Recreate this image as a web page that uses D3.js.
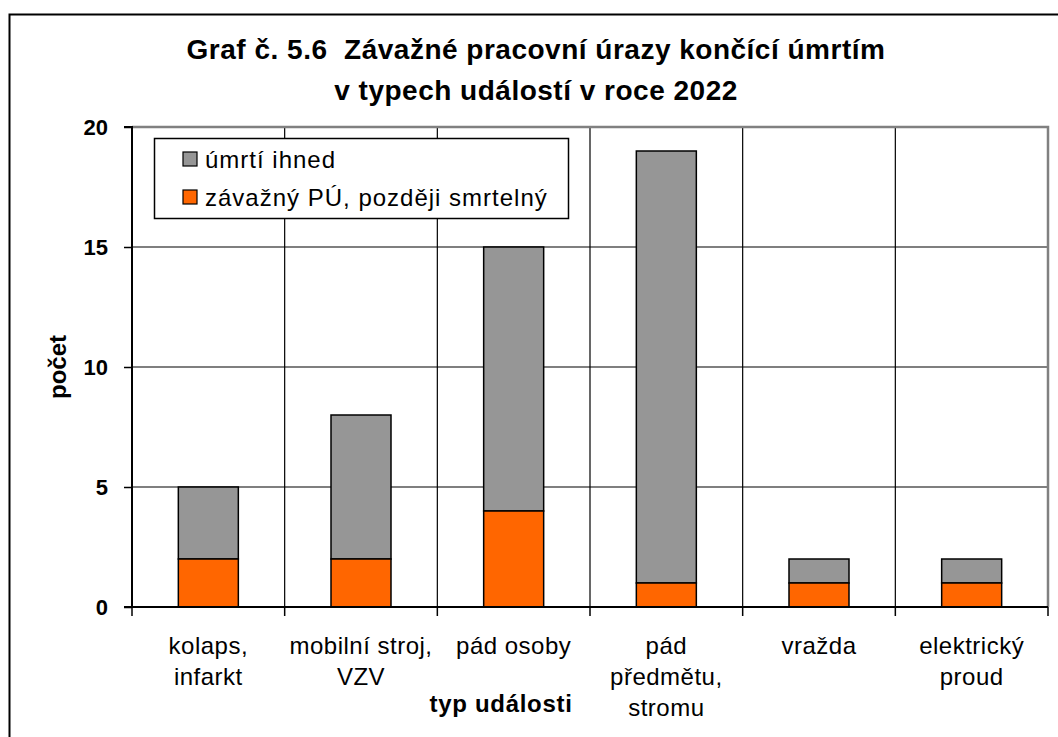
<!DOCTYPE html>
<html>
<head>
<meta charset="utf-8">
<script src="https://cdn.jsdelivr.net/npm/d3@7"></script>
<style>
  body { margin: 0; background: #fff; }
  svg { display: block; font-family: "Liberation Sans", Arial, sans-serif; }
</style>
</head>
<body>
<div id="chart"></div>
<script>
// Graf 5.6 — skládaný sloupcový graf

const categories = [
  ["kolaps,", "infarkt"],
  ["mobilní stroj,", "VZV"],
  ["pád osoby"],
  ["pád", "předmětu,", "stromu"],
  ["vražda"],
  ["elektrický", "proud"]
];
const laterFatal = [2, 2, 4, 1, 1, 1];      // závažný PÚ, později smrtelný
const immediate  = [3, 6, 11, 18, 1, 1];    // úmrtí ihned
const yTicks = [0, 5, 10, 15, 20];

const seriesNames = ["úmrtí ihned", "závažný PÚ, později smrtelný"];
const colors = { immediate: "#969696", later: "#FF6600" };

const width = 1058, height = 737;
const plot = { left: 132, right: 1048, top: 127, bottom: 607 };

const svg = d3.select("#chart").append("svg")
  .attr("width", width)
  .attr("height", height);

// rámeček celého grafu
svg.append("rect")
  .attr("x", 9.5).attr("y", 14.5)
  .attr("width", 1060).attr("height", 740)
  .attr("fill", "none")
  .attr("stroke", "#000")
  .attr("stroke-width", 2);

// titulek
const title = svg.append("text")
  .attr("text-anchor", "middle")
  .style("font-size", "28px")
  .style("font-weight", "bold")
  .style("letter-spacing", "0.5px")
  .style("white-space", "pre");
title.append("tspan").attr("x", 536).attr("y", 59)
  .text("Graf č. 5.6  Závažné pracovní úrazy končící úmrtím");
title.append("tspan").attr("x", 536).attr("y", 100)
  .text("v typech událostí v roce 2022");

const x = d3.scaleBand()
  .domain(d3.range(categories.length))
  .range([plot.left, plot.right])
  .paddingInner(0)
  .paddingOuter(0);

const y = d3.scaleLinear()
  .domain([0, 20])
  .range([plot.bottom, plot.top]);

// horizontální mřížka
svg.append("g")
  .selectAll("line")
  .data(yTicks.filter(d => d > 0 && d < 20))
  .join("line")
  .attr("x1", plot.left).attr("x2", plot.right)
  .attr("y1", d => y(d)).attr("y2", d => y(d))
  .attr("stroke", "#000")
  .attr("stroke-width", 1.2);

// vertikální mřížka (hranice kategorií)
svg.append("g")
  .selectAll("line")
  .data(d3.range(1, categories.length))
  .join("line")
  .attr("x1", d => x(d)).attr("x2", d => x(d))
  .attr("y1", plot.top).attr("y2", plot.bottom)
  .attr("stroke", "#000")
  .attr("stroke-width", 1.2);

// šedý okraj plochy nahoře a vpravo
svg.append("path")
  .attr("d", `M${plot.left},${plot.top}H${plot.right}V${plot.bottom}`)
  .attr("fill", "none")
  .attr("stroke", "#808080")
  .attr("stroke-width", 2.5);

// sloupce
const barW = 60;
const bars = svg.append("g");
categories.forEach((c, i) => {
  const cx = x(i) + x.bandwidth() / 2;
  bars.append("rect")
    .attr("x", cx - barW / 2)
    .attr("y", y(laterFatal[i] + immediate[i]))
    .attr("width", barW)
    .attr("height", y(laterFatal[i]) - y(laterFatal[i] + immediate[i]))
    .attr("fill", colors.immediate)
    .attr("stroke", "#000")
    .attr("stroke-width", 1.5);
  bars.append("rect")
    .attr("x", cx - barW / 2)
    .attr("y", y(laterFatal[i]))
    .attr("width", barW)
    .attr("height", y(0) - y(laterFatal[i]))
    .attr("fill", colors.later)
    .attr("stroke", "#000")
    .attr("stroke-width", 1.5);
});

// osa Y
const yAxis = d3.axisLeft(y).tickValues(yTicks).tickSize(8).tickPadding(16);
const gy = svg.append("g")
  .attr("transform", `translate(${plot.left},0)`)
  .call(yAxis);
gy.select(".domain").attr("stroke", "#000").attr("stroke-width", 2)
  .attr("d", `M-8,${plot.top}H0V${plot.bottom}H-8`);
gy.selectAll(".tick line").attr("stroke", "#000").attr("stroke-width", 1.5);
gy.selectAll(".tick text")
  .attr("fill", "#000")
  .style("font-size", "22px")
  .style("font-weight", "bold")
  .style("font-family", "'Liberation Sans', Arial, sans-serif");

// osa X
const gx = svg.append("g")
  .attr("transform", `translate(0,${plot.bottom})`);
gx.append("line")
  .attr("x1", plot.left).attr("x2", plot.right)
  .attr("stroke", "#000").attr("stroke-width", 2);
gx.selectAll("line.tick")
  .data(d3.range(0, categories.length + 1))
  .join("line")
  .attr("class", "tick")
  .attr("x1", d => d === categories.length ? plot.right : x(d))
  .attr("x2", d => d === categories.length ? plot.right : x(d))
  .attr("y1", 0).attr("y2", 9)
  .attr("stroke", "#000").attr("stroke-width", 1.5);

categories.forEach((lines, i) => {
  const t = gx.append("text")
    .attr("text-anchor", "middle")
    .style("font-size", "24px")
    .style("letter-spacing", "0.5px");
  lines.forEach((l, j) => {
    t.append("tspan")
      .attr("x", x(i) + x.bandwidth() / 2)
      .attr("y", 47 + j * 31)
      .text(l);
  });
});

// popisky os
svg.append("text")
  .attr("x", 501).attr("y", 712)
  .attr("text-anchor", "middle")
  .style("font-size", "24px")
  .style("font-weight", "bold")
  .style("letter-spacing", "0.7px")
  .text("typ události");

svg.append("text")
  .attr("transform", `translate(66,${y(10)}) rotate(-90)`)
  .attr("text-anchor", "middle")
  .style("font-size", "24px")
  .style("font-weight", "bold")
  .text("počet");

// legenda
const legend = svg.append("g").attr("transform", "translate(154,138)");
legend.append("rect")
  .attr("x", 0.5).attr("y", 0.5)
  .attr("width", 414).attr("height", 80)
  .attr("fill", "#fff")
  .attr("stroke", "#000")
  .attr("stroke-width", 1.5);
[colors.immediate, colors.later].forEach((col, i) => {
  legend.append("rect")
    .attr("x", 29).attr("y", 14 + i * 38)
    .attr("width", 14).attr("height", 14)
    .attr("fill", col)
    .attr("stroke", "#000")
    .attr("stroke-width", 1.2);
  legend.append("text")
    .attr("x", 51).attr("y", 30 + i * 38)
    .style("font-size", "24px")
    .style("letter-spacing", "1px")
    .text(seriesNames[i]);
});
</script>
</body>
</html>
